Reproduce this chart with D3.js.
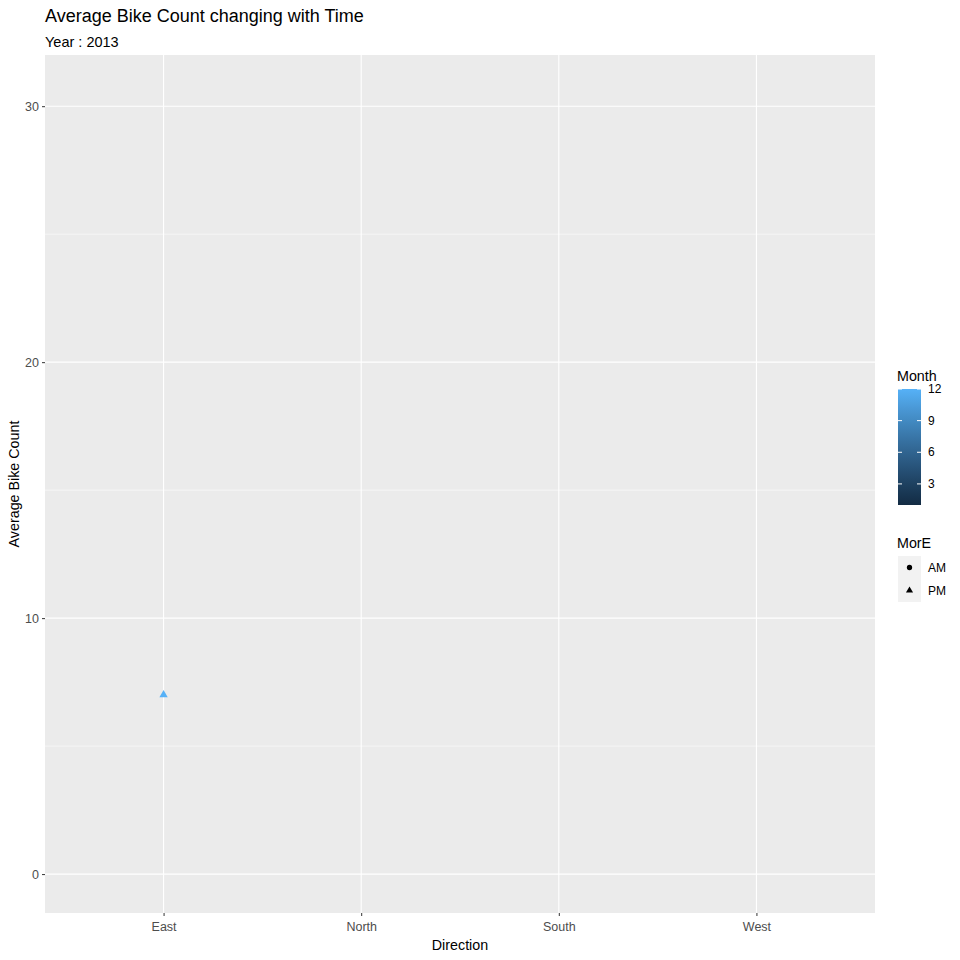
<!DOCTYPE html>
<style>
    body { margin: 0; background: white; }
    text { font-family: "Liberation Sans", Arial, sans-serif; }
    .axis text { fill: #4d4d4d; font-size: 12.5px; }
    .axis line { stroke: #333; }
    .axis path { display: none; }
</style>
<body>
<script src="https://d3js.org/d3.v7.min.js"></script>
<script>
// data
var directions = ["East", "North", "South", "West"];
var yTicks = [0, 10, 20, 30];
var monthTicks = [3, 6, 9, 12];
var shifts = ["AM", "PM"];
var pointDirection = ["East"];
var pointShift = ["PM"];
var pointMonth = [12];
var pointCount = [7.0];

var points = pointDirection.map(function(d, i) {
    return {direction: d, shift: pointShift[i], month: pointMonth[i], count: pointCount[i]};
});

var width = 960, height = 960;
var panel = {left: 45, right: 875, top: 55, bottom: 913};

var svg = d3.select("body").append("svg")
    .attr("width", width)
    .attr("height", height);

// scales
var x = d3.scalePoint().domain(directions)
    .range([panel.left, panel.right]).padding(0.6);
var y = d3.scaleLinear().domain([-1.52, 32.0])
    .range([panel.bottom, panel.top]);
var color = d3.scaleLinear().domain([1, 12])
    .range(["#132B43", "#56B1F7"]).interpolate(d3.interpolateLab);
var shape = d3.scaleOrdinal().domain(shifts)
    .range([d3.symbolCircle, d3.symbolTriangle]);

// panel
svg.append("rect")
    .attr("x", panel.left).attr("y", panel.top)
    .attr("width", panel.right - panel.left)
    .attr("height", panel.bottom - panel.top)
    .attr("fill", "#ebebeb");

// minor grid
var minor = [5, 15, 25];
svg.selectAll(".minor").data(minor).enter().append("line")
    .attr("x1", panel.left).attr("x2", panel.right)
    .attr("y1", function(d) { return y(d); })
    .attr("y2", function(d) { return y(d); })
    .attr("stroke", "white").attr("stroke-width", 0.55);

// major grid
svg.selectAll(".hmajor").data(yTicks).enter().append("line")
    .attr("x1", panel.left).attr("x2", panel.right)
    .attr("y1", function(d) { return y(d); })
    .attr("y2", function(d) { return y(d); })
    .attr("stroke", "white").attr("stroke-width", 1.1);
svg.selectAll(".vmajor").data(directions).enter().append("line")
    .attr("y1", panel.top).attr("y2", panel.bottom)
    .attr("x1", function(d) { return x(d); })
    .attr("x2", function(d) { return x(d); })
    .attr("stroke", "white").attr("stroke-width", 1.1);

// axes
svg.append("g").attr("class", "axis")
    .attr("transform", "translate(" + panel.left + ",0)")
    .call(d3.axisLeft(y).tickValues(yTicks).tickSize(3).tickPadding(3));
svg.append("g").attr("class", "axis")
    .attr("transform", "translate(0," + panel.bottom + ")")
    .call(d3.axisBottom(x).tickSize(3).tickPadding(6));

// points
svg.selectAll(".pt").data(points).enter().append("path")
    .attr("transform", function(d) { return "translate(" + x(d.direction) + "," + y(d.count) + ")"; })
    .attr("d", function(d) { return d3.symbol().type(shape(d.shift)).size(30)(); })
    .attr("fill", function(d) { return color(d.month); });

// titles
svg.append("text").attr("x", 45).attr("y", 22)
    .attr("font-size", "18px").attr("fill", "black")
    .text("Average Bike Count changing with Time");
svg.append("text").attr("x", 45).attr("y", 47)
    .attr("font-size", "14.5px").attr("fill", "black")
    .text("Year : 2013");
svg.append("text").attr("x", (panel.left + panel.right) / 2).attr("y", 950)
    .attr("text-anchor", "middle").attr("font-size", "14.3px")
    .text("Direction");
svg.append("text")
    .attr("transform", "translate(19," + (panel.top + panel.bottom) / 2 + ") rotate(-90)")
    .attr("text-anchor", "middle").attr("font-size", "14.3px")
    .text("Average Bike Count");

// colour bar legend
var bar = {x: 898, y: 389, w: 23, h: 116};
var cb = d3.scaleLinear().domain([1, 12]).range([bar.y + bar.h, bar.y]);
var defs = svg.append("defs");
var grad = defs.append("linearGradient").attr("id", "cbar")
    .attr("x1", 0).attr("y1", 1).attr("x2", 0).attr("y2", 0);
d3.range(1, 13).forEach(function(m) {
    grad.append("stop").attr("offset", (m - 1) / 11).attr("stop-color", color(m));
});
svg.append("text").attr("x", 897).attr("y", 381)
    .attr("font-size", "14.3px").text("Month");
svg.append("rect").attr("x", bar.x).attr("y", bar.y)
    .attr("width", bar.w).attr("height", bar.h)
    .attr("fill", "url(#cbar)");
monthTicks.forEach(function(m) {
    svg.append("line").attr("x1", bar.x).attr("x2", bar.x + 4)
        .attr("y1", cb(m)).attr("y2", cb(m)).attr("stroke", "white");
    svg.append("line").attr("x1", bar.x + bar.w - 4).attr("x2", bar.x + bar.w)
        .attr("y1", cb(m)).attr("y2", cb(m)).attr("stroke", "white");
    svg.append("text").attr("x", 928).attr("y", cb(m))
        .attr("dy", "0.35em").attr("font-size", "12px").text(m);
});

// shape legend
svg.append("text").attr("x", 897).attr("y", 548)
    .attr("font-size", "14.3px").text("MorE");
shifts.forEach(function(s, i) {
    var ky = 556 + i * 23;
    svg.append("rect").attr("x", 898).attr("y", ky)
        .attr("width", 23).attr("height", 23).attr("fill", "#f2f2f2");
    svg.append("path")
        .attr("transform", "translate(909.5," + (ky + 11.5) + ")")
        .attr("d", d3.symbol().type(shape(s)).size(22)())
        .attr("fill", "black");
    svg.append("text").attr("x", 928).attr("y", ky + 11.5)
        .attr("dy", "0.35em").attr("font-size", "12px").text(s);
});
</script>
</body>
